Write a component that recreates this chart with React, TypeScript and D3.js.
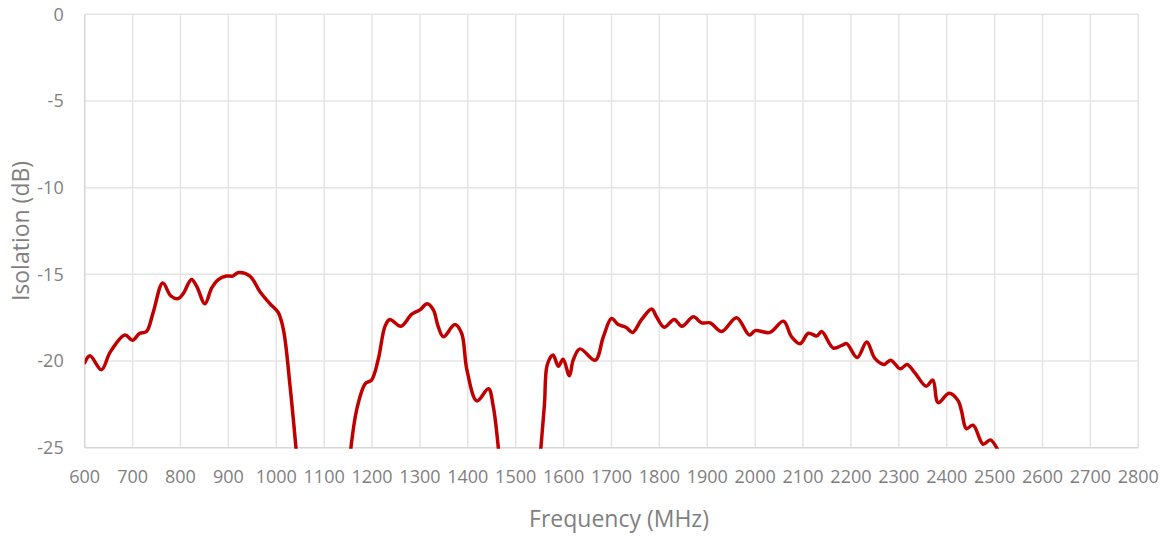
import React, {useEffect, useRef} from "react";
import * as d3 from "d3";

// three traces, the gaps are where isolation falls below the axis minimum
const freqA = [600, 611, 635, 653, 684, 700, 715, 729, 743, 763, 780, 795, 806, 823, 834, 851, 865, 879, 896, 909, 921, 945, 966, 987, 1004, 1015, 1029, 1046];
const isoA = [-20.1, -19.7, -20.5, -19.5, -18.5, -18.8, -18.4, -18.3, -17.2, -15.5, -16.25, -16.4, -16.1, -15.3, -15.7, -16.7, -15.8, -15.3, -15.1, -15.1, -14.9, -15.1, -16.0, -16.7, -17.2, -18.2, -21.5, -26.5];

const freqB = [1150, 1168, 1186, 1199, 1213, 1227, 1237, 1260, 1283, 1300, 1315, 1328, 1338, 1349, 1373, 1387, 1398, 1419, 1443, 1453, 1464, 1468];
const isoB = [-26.5, -22.8, -21.3, -21.1, -19.9, -18.0, -17.6, -18.0, -17.3, -17.05, -16.7, -17.05, -18.0, -18.6, -17.9, -18.4, -20.5, -22.3, -21.6, -22.6, -25.1, -26.5];

const freqC = [1548, 1560, 1566, 1578, 1589, 1599, 1612, 1620, 1634, 1666, 1683, 1700, 1714, 1730, 1744, 1763, 1784, 1794, 1810, 1831, 1847, 1871, 1888, 1906, 1930, 1961, 1988, 2000, 2031, 2059, 2076, 2094, 2111, 2129, 2139, 2163, 2181, 2191, 2213, 2233, 2250, 2269, 2283, 2303, 2317, 2334, 2357, 2371, 2382, 2405, 2424, 2431, 2441, 2455, 2476, 2491, 2506, 2510];
const isoC = [-26.5, -22.5, -20.2, -19.65, -20.3, -19.9, -20.85, -19.95, -19.3, -19.95, -18.6, -17.55, -17.9, -18.05, -18.35, -17.6, -17.0, -17.45, -18.05, -17.6, -18.0, -17.45, -17.8, -17.8, -18.3, -17.5, -18.5, -18.25, -18.35, -17.7, -18.6, -19.0, -18.4, -18.55, -18.3, -19.25, -19.1, -19.0, -19.8, -18.9, -19.85, -20.2, -19.95, -20.45, -20.2, -20.7, -21.45, -21.1, -22.4, -21.86, -22.3, -22.9, -23.9, -23.7, -24.8, -24.55, -25.1, -25.4];

const xTicks = d3.range(600, 2801, 100);
const yTicks = [0, -5, -10, -15, -20, -25];

const W = 1168;
const H = 537;
const margin = {top: 14.3, right: 29.7, bottom: 89.3, left: 84.7};

const App = () => {
    const ref = useRef<SVGSVGElement>(null);

    useEffect(() => {
        const svg = d3.select(ref.current);
        svg.selectAll("*").remove();
        const width = W - margin.left - margin.right;
        const height = H - margin.top - margin.bottom;
        const font = "Open Sans, Noto Sans, sans-serif";

        const x = d3.scaleLinear().domain([600, 2800]).range([0, width]);
        const y = d3.scaleLinear().domain([-25, 0]).range([height, 0]);

        const g = svg.append("g")
            .attr("transform", `translate(${margin.left},${margin.top})`);

        g.append("clipPath").attr("id", "plotclip")
            .append("rect")
            .attr("x", 0).attr("y", -2)
            .attr("width", width).attr("height", height + 3);

        // grid
        g.append("g").selectAll("line")
            .data(xTicks.slice(1))
            .enter().append("line")
            .attr("x1", (d: number) => x(d)).attr("x2", (d: number) => x(d))
            .attr("y1", 0).attr("y2", height)
            .attr("stroke", "#e4e4e4").attr("stroke-width", 1.5);
        g.append("g").selectAll("line")
            .data(yTicks.slice(0, -1))
            .enter().append("line")
            .attr("x1", 0).attr("x2", width)
            .attr("y1", (d: number) => y(d)).attr("y2", (d: number) => y(d))
            .attr("stroke", "#e4e4e4").attr("stroke-width", 1.5);

        // axis lines
        g.append("line")
            .attr("x1", 0).attr("x2", width)
            .attr("y1", height).attr("y2", height)
            .attr("stroke", "#d6d6d6").attr("stroke-width", 1.5);
        g.append("line")
            .attr("x1", 0).attr("x2", 0)
            .attr("y1", 0).attr("y2", height)
            .attr("stroke", "#d6d6d6").attr("stroke-width", 1.5);

        // tick labels
        g.append("g").selectAll("text")
            .data(xTicks)
            .enter().append("text")
            .attr("x", (d: number) => x(d))
            .attr("y", height + 35)
            .attr("text-anchor", "middle")
            .attr("font-family", font).attr("font-size", 18)
            .attr("fill", "#7f7f7f")
            .text((d: number) => d);
        g.append("g").selectAll("text")
            .data(yTicks)
            .enter().append("text")
            .attr("x", -21)
            .attr("y", (d: number) => y(d))
            .attr("dy", "0.35em")
            .attr("text-anchor", "end")
            .attr("font-family", font).attr("font-size", 18)
            .attr("fill", "#7f7f7f")
            .text((d: number) => d);

        // titles
        svg.append("text")
            .attr("x", 619).attr("y", 527)
            .attr("text-anchor", "middle")
            .attr("font-family", font).attr("font-size", 23)
            .attr("fill", "#7f7f7f")
            .text("Frequency (MHz)");
        svg.append("text")
            .attr("transform", `translate(29,${margin.top + height / 2}) rotate(-90)`)
            .attr("text-anchor", "middle")
            .attr("font-family", font).attr("font-size", 23)
            .attr("fill", "#7f7f7f")
            .text("Isolation (dB)");

        const line = d3.line<[number, number]>()
            .x(d => x(d[0]))
            .y(d => y(d[1]))
            .curve(d3.curveCatmullRom.alpha(0.5));

        const zip = (a: number[], b: number[]) => a.map((k, i) => [k, b[i]] as [number, number]);
        const traces = [zip(freqA, isoA), zip(freqB, isoB), zip(freqC, isoC)];

        g.append("g").attr("clip-path", "url(#plotclip)")
            .selectAll("path")
            .data(traces)
            .enter().append("path")
            .attr("d", (d: [number, number][]) => line(d))
            .attr("fill", "none")
            .attr("stroke", "#c00000")
            .attr("stroke-width", 3.5)
            .attr("stroke-linejoin", "round")
            .attr("stroke-linecap", "round");
    }, []);

    return (
        <svg ref={ref} width={W} height={H}
             style={{position: "absolute", left: 0, top: 0, background: "#fff"}}></svg>
    );
};

export default App;
